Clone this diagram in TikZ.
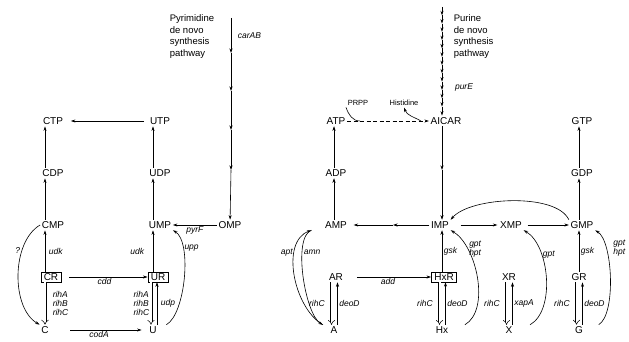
\documentclass[tikz,border=0pt]{standalone}
\usepackage{fontspec}
\setmainfont{Liberation Sans}
\usetikzlibrary{arrows.meta}

\newcommand{\metsize}{\fontsize{10}{11}\selectfont}
\newcommand{\labsize}{\fontsize{8.5}{9}\selectfont\itshape}
\newcommand{\pathsize}{\fontsize{9.5}{11.5}\selectfont}
\newcommand{\smallsize}{\fontsize{7.5}{9}\selectfont}

\begin{document}
\begin{tikzpicture}[x=1pt, y=1pt, ->, >={Stealth[length=4.5pt, width=3pt]}, node distance=52pt, line width=0.6pt,
    every node/.style={font=\metsize, inner sep=1.5pt},
    boxed/.style={draw, line width=0.5pt, inner xsep=3pt, inner ysep=1.5pt},
    lab/.style={font=\labsize, inner sep=1.5pt, align=left},
    hyd/.style={double, double distance=2pt, line width=0.5pt, -{Implies}},
    salv/.style={out=30, in=-30, looseness=0.7}]
    \useasboundingbox (0,0) rectangle (629,-342);

    % pyrimidines
    \node (CTP) at (53,-121) {CTP};
    \node (UTP) [right of=CTP, node distance=107pt] {UTP};
    \node (CDP) [below of=CTP] {CDP};
    \node (UDP) [below of=UTP] {UDP};
    \node (CMP) [below of=CDP] {CMP};
    \node (UMP) [below of=UDP] {UMP};
    \node (OMP) [right of=UMP, node distance=70pt] {OMP};
    \node[boxed] (CR) [below of=CMP, xshift=-2pt] {CR};
    \node[boxed] (UR) [below of=UMP, xshift=-2pt] {UR};
    \node (C) [below of=CR, node distance=53pt, xshift=-6pt] {C};
    \node (U) [below of=UR, node distance=53pt, xshift=-5pt] {U};

    \node[font=\pathsize, align=left, anchor=north west] (pyrtxt) at (168,-13) {Pyrimidine\\de novo\\synthesis\\pathway};
    \coordinate (pyr0) at (231,-18);
    \coordinate (pyr1) at (231,-53);
    \coordinate (pyr2) at (231,-91);
    \coordinate (pyr3) at (231,-130);
    \coordinate (pyr4) at (231,-170);

    \path (pyr0) edge node[lab, right, xshift=5pt] {carAB} (pyr1)
          (pyr1) edge (pyr2)
          (pyr2) edge (pyr3)
          (pyr3) edge (pyr4)
          (pyr4) edge (OMP)
          (OMP) edge node[lab, below] {pyrF} (UMP)
          (UTP) edge[shorten >=6pt, shorten <=4pt] (CTP)
          (CDP.north -| C.north) edge (CTP.south -| C.north)
          (CMP.north -| C.north) edge (CDP.south -| C.north)
          (CR.north -| C.north) edge node[lab, right, xshift=2pt] {udk} (CMP.south -| C.north)
          (UDP.north -| U.north) edge (UTP.south -| U.north)
          (UMP.north -| U.north) edge (UDP.south -| U.north)
          (UR.north -| U.north) edge node[lab, left, xshift=-7pt] {udk} (UMP.south -| U.north)
          (CR) edge[shorten <=8pt] node[lab, below] {cdd} (UR)
          (C) edge[shorten <=20pt, shorten >=6pt] node[lab, below] {codA} (U);

    \draw[hyd] (CR.south -| C.north) -- node[lab, right, xshift=6pt] {rihA\\rihB\\rihC} (C.north);
    \draw[hyd, transform canvas={xshift=-2pt}] (UR.south -| U.north) -- node[lab, left] {rihA\\rihB\\rihC} (U.north);
    \draw[transform canvas={xshift=4pt}] (U.north) -- node[lab, right, xshift=2pt] {udp} (UR.south -| U.north);

    \draw (CMP.west) to[out=210, in=150, looseness=0.85] node[lab, left, pos=0.3] {?} (C.north west);
    \draw ([xshift=8pt]U.north east) to[salv, looseness=0.6] node[lab, right, pos=0.75] {upp} (UMP.south east);

    % purines
    \node (ATP) at (336,-121) {ATP};
    \node (AICAR) [right of=ATP, node distance=110pt] {AICAR};
    \node (GTP) at (582,-121) {GTP};
    \node (ADP) [below of=ATP] {ADP};
    \node (GDP) [below of=GTP] {GDP};
    \node (AMP) [below of=ADP] {AMP};
    \node (IMP) [below of=AICAR, node distance=104pt, xshift=-6pt] {IMP};
    \node (XMP) [right of=IMP, node distance=71pt] {XMP};
    \node (GMP) [below of=GDP] {GMP};
    \node (AR) [below of=AMP] {AR};
    \node[boxed] (HxR) [below of=IMP, xshift=4pt] {HxR};
    \node (XR) [below of=XMP, xshift=-2pt] {XR};
    \node (GR) [below of=GMP, xshift=-3pt] {GR};
    \node (A) [below of=AR, node distance=53pt, xshift=-2pt] {A};
    \node (Hx) [below of=HxR, node distance=53pt, xshift=-2pt] {Hx};
    \node (X) [below of=XR, node distance=53pt] {X};
    \node (G) [below of=GR, node distance=53pt] {G};

    \node[font=\pathsize, align=left, anchor=north west] (purtxt) at (452,-13) {Purine\\de novo\\synthesis\\pathway};
    \node[lab] (purE) at (464,-87) {purE};
    \foreach \j in {0,...,12}
        \coordinate (pur\j) at (442,{-7-8.3*\j});
    \foreach \i [count=\j] in {0,...,11}
        \draw (pur\i) -- (pur\j);
    \draw (pur12) -- (AICAR.north -| Hx.north);

    \node[font=\smallsize] (PRPP) at (358,-103) {PRPP};
    \node[font=\smallsize] (His) at (404,-103) {Histidine};
    \coordinate (PRj) at (360,-121);
    \coordinate (Hisj) at (421,-121);
    \draw[dash pattern=on 4pt off 2.5pt] (ATP) -- (AICAR);
    \draw[-] (PRPP.south west) to[out=-70, in=180] (PRj);
    \draw (Hisj) to[out=150, in=-70] (His.south);

    \coordinate (FAICAR) at (442,-170);
    \coordinate (SAMP) at (393,-225);
    \path (AICAR.south -| Hx.north) edge (FAICAR)
          (FAICAR) edge (IMP.north -| Hx.north)
          (IMP) edge (SAMP)
          (SAMP) edge[shorten >=5pt] (AMP)
          (IMP) edge[shorten <=10pt, shorten >=1pt] (XMP)
          (XMP) edge[shorten <=4pt] (GMP)
          (ADP.north -| A.north) edge (ATP.south -| A.north)
          (AMP.north -| A.north) edge (ADP.south -| A.north)
          (GDP.north -| G.north) edge (GTP.south -| G.north)
          (GMP.north -| G.north) edge (GDP.south -| G.north)
          (HxR.north -| Hx.north) edge node[lab, right] {gsk} (IMP.south -| Hx.north)
          (GR.north -| G.north) edge node[lab, right] {gsk} (GMP.south -| G.north)
          (AR) edge[shorten <=12pt] node[lab, below] {add} (HxR);

    \foreach \ns/\bs/\rl in {AR/A/deoD, HxR/Hx/deoD, XR/X/xapA, GR/G/deoD} {
        \draw[hyd, transform canvas={xshift=-2.5pt}] (\ns.south -| \bs.north) -- node[lab, left, xshift=-5pt] {rihC} (\bs.north);
        \draw[transform canvas={xshift=3.5pt}] (\bs.north) -- node[lab, right] {\rl} (\ns.south -| \bs.north);
    }

    \draw ([xshift=-6pt]A.north west) to[out=150, in=200, looseness=0.9] node[lab, left, pos=0.7] {apt} ([xshift=-12pt]AMP.south west);
    \draw ([xshift=-12pt]AMP.south west) to[out=200, in=150, looseness=0.55] node[lab, right, pos=0.3] {amn} ([xshift=-6pt]A.north west);
    \draw ([xshift=15pt]Hx.north east) to[salv, looseness=0.8] node[lab, right, pos=0.75] {gpt\\hpt} (IMP.south east);
    \draw ([xshift=16pt]X.north east) to[salv, looseness=0.8] node[lab, right, pos=0.7] {gpt} (XMP.south east);
    \draw ([xshift=14pt]G.north east) to[salv, looseness=0.55] node[lab, right, pos=0.75, xshift=6pt] {gpt\\hpt} (GMP.south east);
    \draw (GMP.north west) to[out=115, in=50, looseness=0.65] (IMP.north east);
\end{tikzpicture}
\end{document}
